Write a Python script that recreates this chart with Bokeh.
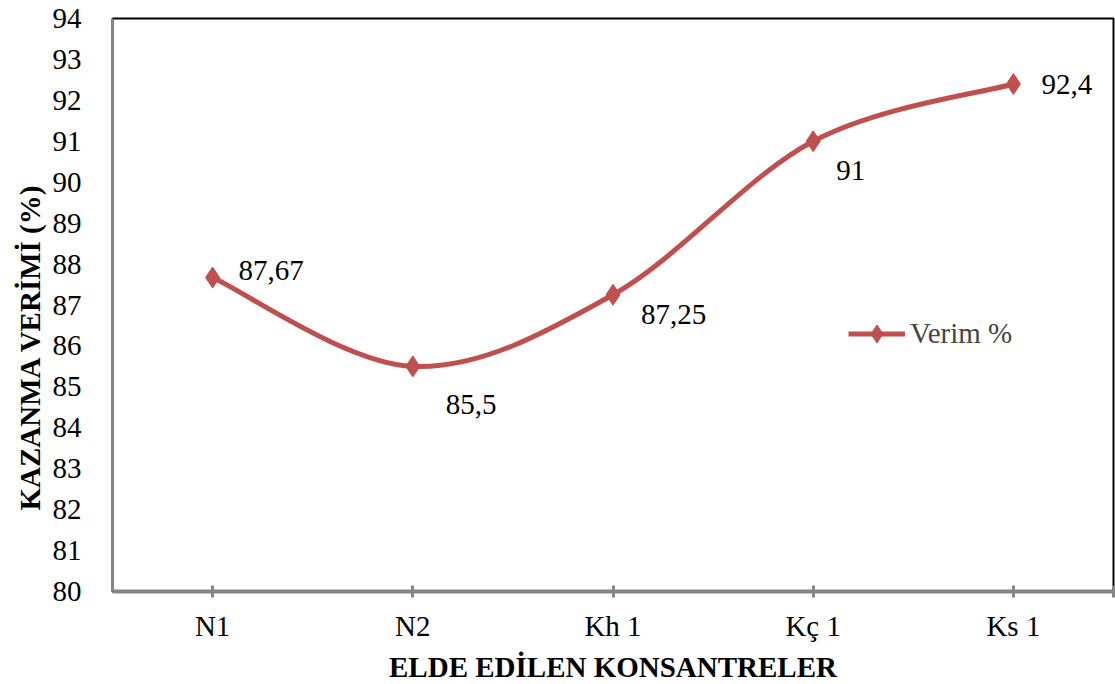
from bokeh.plotting import figure
from bokeh.models import ColumnDataSource, FixedTicker, Range1d, Legend, LegendItem, Label, Title
from bokeh.embed import file_html
from bokeh.resources import INLINE

categories = ["N1", "N2", "Kh 1", "Kç 1", "Ks 1"]
verim = [87.67, 85.5, 87.25, 91.0, 92.4]
labels = ["87,67", "85,5", "87,25", "91", "92,4"]
y_ticks = list(range(80, 95))

xs = [i + 0.5 for i in range(len(categories))]
color = "#C0504D"
FONT = "'Liberation Serif', 'Times New Roman', serif"
FS = "29px"

p = figure(width=1115, height=684, output_backend="svg", toolbar_location=None,
           x_range=Range1d(0, 5), y_range=Range1d(80, 94),
           min_border_left=112, min_border_right=2, min_border_top=18, min_border_bottom=93)
p.frame_width = 1001
p.frame_height = 573

# smoothed curve (Excel-style) via Bezier segments
n = len(xs)
x0, y0, x1, y1, cx0, cy0, cx1, cy1 = [], [], [], [], [], [], [], []
for i in range(n - 1):
    pa = (xs[max(i - 1, 0)], verim[max(i - 1, 0)])
    pb = (xs[i], verim[i])
    pc = (xs[i + 1], verim[i + 1])
    pd = (xs[min(i + 2, n - 1)], verim[min(i + 2, n - 1)])
    x0.append(pb[0]); y0.append(pb[1]); x1.append(pc[0]); y1.append(pc[1])
    cx0.append(pb[0] + (pc[0] - pa[0]) / 6); cy0.append(pb[1] + (pc[1] - pa[1]) / 6)
    cx1.append(pc[0] - (pd[0] - pb[0]) / 6); cy1.append(pc[1] - (pd[1] - pb[1]) / 6)
bz = p.bezier(x0=x0, y0=y0, x1=x1, y1=y1, cx0=cx0, cy0=cy0, cx1=cx1, cy1=cy1,
              line_color=color, line_width=5)

src = ColumnDataSource(dict(x=xs, y=verim, lab=labels))
sc = p.scatter("x", "y", source=src, marker="diamond", size=21, fill_color=color, line_color=color)

# data labels
offs = [(26, 7), (33, -38), (28, -20), (23, -29), (28, -1)]
for (xo, yo), xv, yv, t in zip(offs, xs, verim, labels):
    p.add_layout(Label(x=xv, y=yv, text=t, x_offset=xo, y_offset=yo,
                       text_font=FONT, text_font_size=FS, text_color="black",
                       text_baseline="middle", text_align="left"))

# y axis title, placed lower than the frame centre like the original
ytitle = Title(text="KAZANMA VERİMİ (%)", align="left", offset=81,
               text_font=FONT, text_font_size="29px", text_font_style="bold",
               text_color="black", standoff=7)
p.add_layout(ytitle, "left")

legend = Legend(items=[LegendItem(label="Verim %", renderers=[bz, sc])],
                location=(736, 235), border_line_color=None, background_fill_alpha=0,
                label_text_font=FONT, label_text_font_size=FS, glyph_width=57,
                glyph_height=45, label_standoff=5, padding=0, margin=0, spacing=0)
p.add_layout(legend)

p.outline_line_color = "black"
p.outline_line_width = 2
p.grid.visible = False

# axes
p.xaxis.ticker = FixedTicker(ticks=xs + [5])
p.xaxis.major_label_overrides = {x: c for x, c in zip(xs, categories)} | {5: ""}
p.xaxis.axis_line_color = "#868686"
p.xaxis.axis_line_width = 4
p.xaxis.major_tick_line_color = "#868686"
p.xaxis.major_tick_line_width = 3
p.xaxis.major_tick_in = 6
p.xaxis.major_tick_out = 6
p.xaxis.minor_tick_line_color = None
p.xaxis.major_label_text_font = FONT
p.xaxis.major_label_text_font_size = FS
p.xaxis.major_label_text_color = "black"
p.xaxis.major_label_standoff = 12
p.xaxis.axis_label = "ELDE EDİLEN KONSANTRELER"
p.xaxis.axis_label_text_font = FONT
p.xaxis.axis_label_text_font_size = "29px"
p.xaxis.axis_label_text_font_style = "bold"
p.xaxis.axis_label_text_color = "black"
p.xaxis.axis_label_standoff = 6

p.yaxis.ticker = FixedTicker(ticks=y_ticks)
p.yaxis.axis_line_color = "#868686"
p.yaxis.axis_line_width = 2
p.yaxis.major_tick_line_color = None
p.yaxis.minor_tick_line_color = None
p.yaxis.major_label_text_font = FONT
p.yaxis.major_label_text_font_size = FS
p.yaxis.major_label_text_color = "black"
p.yaxis.major_label_standoff = 25

open("out.html", "w").write(file_html(p, INLINE))
